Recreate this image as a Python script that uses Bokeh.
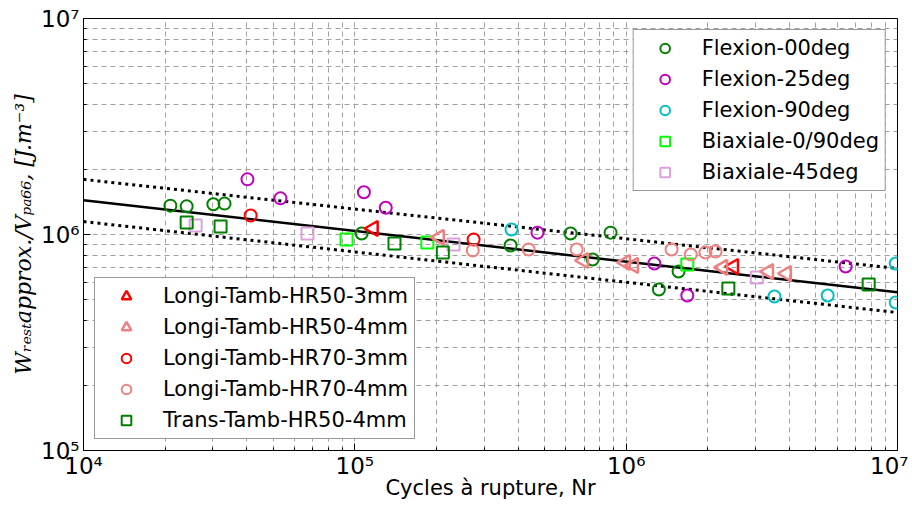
from bokeh.plotting import figure
from bokeh.models import Legend, LegendItem, FixedTicker
from bokeh.embed import file_html
from bokeh.resources import INLINE

# ---- data ----
f00_x = [2.09e4, 2.40e4, 3.01e4, 3.31e4, 1.06e5, 3.75e5, 6.24e5, 8.76e5, 7.52e5, 1.32e6, 1.56e6]
f00_y = [1.36e6, 1.35e6, 1.38e6, 1.39e6, 1.01e6, 8.89e5, 1.01e6, 1.02e6, 7.66e5, 5.56e5, 6.74e5]

f25_x = [4.02e4, 5.32e4, 1.08e5, 1.30e5, 4.71e5, 1.27e6, 1.68e6, 6.44e6]
f25_y = [1.80e6, 1.47e6, 1.57e6, 1.33e6, 1.02e6, 7.34e5, 5.22e5, 7.11e5]

f90_x = [3.78e5, 3.52e6, 5.53e6, 9.85e6, 9.85e6]
f90_y = [1.055e6, 5.16e5, 5.22e5, 7.34e5, 4.84e5]

b090_x = [9.32e4, 1.85e5, 1.68e6]
b090_y = [9.48e5, 9.18e5, 7.26e5]

b45_x = [2.59e4, 6.69e4, 2.31e5, 3.03e6]
b45_y = [1.10e6, 1.01e6, 8.99e5, 6.32e5]

l503_x = [1.17e5, 2.49e6]
l503_y = [1.066e6, 7.11e5]

l504_x = [2.05e5, 6.97e5, 9.95e5, 1.065e6, 2.27e6, 3.35e6, 3.90e6]
l504_y = [9.69e5, 7.58e5, 7.42e5, 7.19e5, 7.04e5, 6.74e5, 6.60e5]

l703_x = [4.13e4, 2.74e5]
l703_y = [1.225e6, 9.48e5]

l704_x = [2.72e5, 4.37e5, 6.57e5, 1.47e6, 1.73e6, 1.96e6, 2.135e6]
l704_y = [8.43e5, 8.52e5, 8.52e5, 8.52e5, 8.08e5, 8.26e5, 8.34e5]

t504_x = [2.40e4, 3.20e4, 1.40e5, 2.11e5, 2.38e6, 7.83e6]
t504_y = [1.137e6, 1.089e6, 9.09e5, 8.26e5, 5.62e5, 5.87e5]

fit_x = [1e4, 1e7]
fit_mid = [1.44e6, 5.40e5]
fit_up = [1.80e6, 6.96e5]
fit_low = [1.148e6, 4.35e5]

x_major = [1e4, 1e5, 1e6, 1e7]
x_labels = ["10⁴", "10⁵", "10⁶", "10⁷"]
y_major = [1e5, 1e6, 1e7]
y_labels = ["10⁵", "10⁶", "10⁷"]

series = [
    ("Flexion-00deg", f00_x, f00_y, "circle", "#008000", 1),
    ("Flexion-25deg", f25_x, f25_y, "circle", "#bf00bf", 1),
    ("Flexion-90deg", f90_x, f90_y, "circle", "#00bfbf", 1),
    ("Biaxiale-0/90deg", b090_x, b090_y, "square", "#00ff00", 1),
    ("Biaxiale-45deg", b45_x, b45_y, "square", "#dda0dd", 1),
    ("Longi-Tamb-HR50-3mm", l503_x, l503_y, "triangle", "#ff0000", 2),
    ("Longi-Tamb-HR50-4mm", l504_x, l504_y, "triangle", "#f08080", 2),
    ("Longi-Tamb-HR70-3mm", l703_x, l703_y, "circle", "#ff0000", 2),
    ("Longi-Tamb-HR70-4mm", l704_x, l704_y, "circle", "#f08080", 2),
    ("Trans-Tamb-HR50-4mm", t504_x, t504_y, "square", "#008000", 2),
]

p = figure(width=908, height=509, x_axis_type="log", y_axis_type="log",
           x_range=(1e4, 1e7), y_range=(1e5, 1e7),
           output_backend="svg", toolbar_location=None,
           min_border_left=83, min_border_right=11, min_border_top=18, min_border_bottom=59)

p.background_fill_color = "white"
p.border_fill_color = "white"
p.outline_line_color = "black"
p.outline_line_width = 1

# ticks
x_minor = [m * 10 ** e for e in range(4, 7) for m in range(2, 10)]
y_minor = [m * 10 ** e for e in range(5, 7) for m in range(2, 10)]
p.xaxis.ticker = FixedTicker(ticks=x_major, minor_ticks=x_minor)
p.yaxis.ticker = FixedTicker(ticks=y_major, minor_ticks=y_minor)
p.xaxis.major_label_overrides = {v: s for v, s in zip(x_major, x_labels)}
p.yaxis.major_label_overrides = {v: s for v, s in zip(y_major, y_labels)}

for ax in (p.xaxis[0], p.yaxis[0]):
    ax.major_label_text_font = "DejaVu Sans"
    ax.major_label_text_font_size = "23px"
    ax.major_label_text_color = "black"
    ax.major_tick_in = 7
    ax.major_tick_out = 0
    ax.minor_tick_in = 3
    ax.minor_tick_out = 0
    ax.axis_line_color = "black"
    ax.major_tick_line_color = "black"
    ax.minor_tick_line_color = "black"
    ax.axis_label_text_color = "black"

p.xaxis.major_label_standoff = 2
p.yaxis.major_label_standoff = 4
p.xaxis.axis_label = "Cycles à rupture, Nr"
p.xaxis.axis_label_text_font = "DejaVu Sans"
p.xaxis.axis_label_text_font_size = "21px"
p.xaxis.axis_label_text_font_style = "normal"
p.xaxis.axis_label_standoff = -6
p.yaxis.axis_label = "Wᵣₑₛₜapprox./Vₚₐ₆₆, [J.m⁻³]"
p.yaxis.axis_label_text_font = "DejaVu Serif"
p.yaxis.axis_label_text_font_size = "22px"
p.yaxis.axis_label_text_font_style = "italic"
p.yaxis.axis_label_standoff = 2

# grid
for g in (p.xgrid[0], p.ygrid[0]):
    g.grid_line_color = "#a0a0a0"
    g.grid_line_dash = "5 4"
    g.grid_line_width = 1
    g.minor_grid_line_color = "#a0a0a0"
    g.minor_grid_line_dash = "5 4"
    g.minor_grid_line_width = 1

# fit lines
p.line(fit_x, fit_mid, line_color="black", line_width=2.5)
p.line(fit_x, fit_up, line_color="black", line_width=3, line_dash="3 4")
p.line(fit_x, fit_low, line_color="black", line_width=3, line_dash="3 4")

items1, items2 = [], []
for name, xs, ys, mk, col, grp in series:
    kw = dict(marker=mk, size=12, fill_color=None, line_color=col, line_width=2)
    if mk == "triangle":
        kw["angle"] = 1.5708
        kw["size"] = 15
        kw["line_width"] = 2.5
    r = p.scatter(xs, ys, **kw)
    item = LegendItem(label=name, renderers=[r])
    (items1 if grp == 1 else items2).append(item)

def make_legend(items, loc):
    lg = Legend(items=items, location=loc)
    lg.label_text_font = "DejaVu Sans"
    lg.label_text_font_size = "21px"
    lg.label_text_color = "black"
    lg.glyph_width = 50
    lg.glyph_height = 24
    lg.label_height = 24
    lg.label_standoff = 12
    lg.spacing = 7
    lg.padding = 6
    lg.margin = 11
    lg.border_line_color = "#333333"
    lg.border_line_width = 1
    lg.background_fill_color = "white"
    lg.background_fill_alpha = 1.0
    return lg

p.add_layout(make_legend(items1, "top_right"), "center")
p.add_layout(make_legend(items2, "bottom_left"), "center")

open("out.html", "w").write(file_html(p, INLINE))
